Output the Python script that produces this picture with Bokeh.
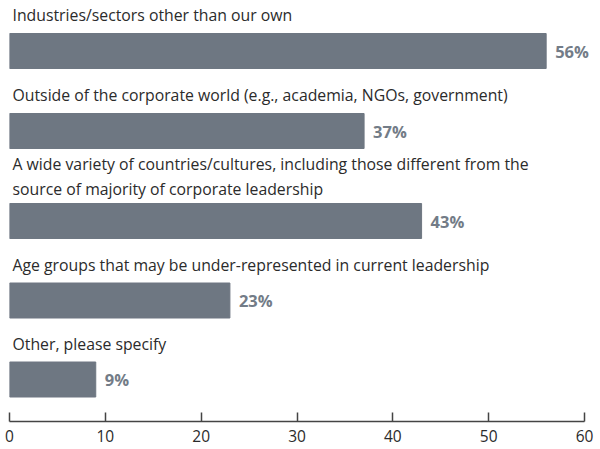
from bokeh.plotting import figure
from bokeh.models import Range1d, ColumnDataSource, FixedTicker
from bokeh.core.properties import value
from bokeh.embed import file_html
from bokeh.resources import INLINE

categories = [
    "Industries/sectors other than our own",
    "Outside of the corporate world (e.g., academia, NGOs, government)",
    "A wide variety of countries/cultures, including those different from the\nsource of majority of corporate leadership",
    "Age groups that may be under-represented in current leadership",
    "Other, please specify",
]
values = [56, 37, 43, 23, 9]
x_ticks = [0, 10, 20, 30, 40, 50, 60]

# layout (pixel-like y units, flipped range)
bar_centers = [50.5, 130.5, 220.5, 300, 379]
bar_h = 35
label_lines = [c.count("\n") + 1 for c in categories]
label_y = [bc - bar_h / 2 - 18.5 - (n - 1) * 8.5 for bc, n in zip(bar_centers, label_lines)]

# axis spans pixels 9..584; frame extends to 600 so value labels are not clipped
AX_MAX = x_ticks[-1]
x_end = AX_MAX * (600 - 9) / (584 - 9)

FONT = "Open Sans"
BAR = "#6e7782"

p = figure(width=600, height=449, output_backend="svg", toolbar_location=None,
           x_range=Range1d(0, x_end), y_range=Range1d(421, 0),
           min_border_left=9, min_border_right=0, min_border_top=0, min_border_bottom=28)
p.outline_line_color = None
p.grid.visible = False
p.yaxis.visible = False

src = ColumnDataSource(dict(y=bar_centers, v=values, cat=categories, ly=label_y,
                            vl=[f"{v}%" for v in values]))
p.hbar(y="y", left=0, right="v", height=bar_h, source=src, color=BAR)
p.text(x=0, y="ly", text="cat", source=src, x_offset=3, text_baseline="middle",
       text_align="left", text_font=value(FONT), text_font_size="15.8px",
       text_color="#2b2b2b", text_line_height=1.1)
p.text(x="v", y="y", text="vl", source=src, x_offset=9, text_baseline="middle",
       text_align="left", text_font=value(FONT), text_font_size="16.5px",
       text_font_style="bold", text_color="#737c87")

ax = p.xaxis[0]
ax.ticker = FixedTicker(ticks=x_ticks)
ax.bounds = (0, AX_MAX)
ax.axis_line_color = "#444444"
ax.axis_line_width = 1.5
ax.major_tick_line_color = "#444444"
ax.major_tick_line_width = 1.5
ax.major_tick_in = 9
ax.major_tick_out = 0
ax.minor_tick_line_color = None
ax.major_label_text_font = FONT
ax.major_label_text_font_size = "15.5px"
ax.major_label_text_color = "#2b2b2b"
ax.major_label_standoff = 8

open("out.html", "w").write(file_html(p, INLINE))
